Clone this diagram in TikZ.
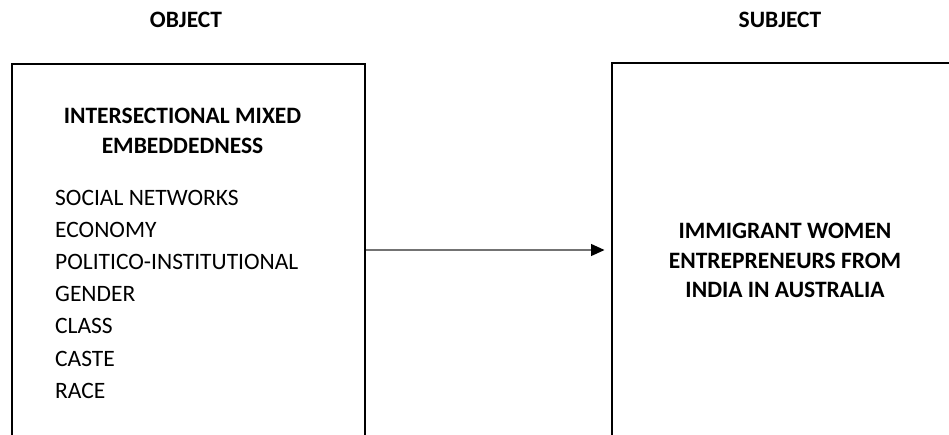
\documentclass[tikz,border=0pt]{standalone}
\usepackage{fontspec}
\setmainfont{Carlito}
\usetikzlibrary{arrows.meta}
\begin{document}
\begin{tikzpicture}[x=1pt,y=-1pt,
  frame/.style={draw=black, line width=2pt, rectangle, inner sep=0pt},
  heading/.style={font=\fontsize{23.5}{30}\selectfont\bfseries, inner sep=0pt},
  item/.style={font=\fontsize{23.5}{30}\selectfont, anchor=base west, inner sep=0pt},
  link/.style={draw=black!55, line width=1.3pt,
    -{Triangle[length=13.5pt,width=12pt,color=black]}}]
  \useasboundingbox (0,0) rectangle (949,434);
  \clip (0,0) rectangle (949,434);

  % column captions
  \node[heading, anchor=base] (objcap) at (186,27.7) {OBJECT};
  \node[heading, anchor=base] (subcap) at (780,27.7) {SUBJECT};

  % the two frames run past the lower (and right) edge
  \node[frame, minimum width=353pt, minimum height=500pt, anchor=north west] (objbox) at (11,63) {};
  \node[frame, minimum width=400pt, minimum height=500pt, anchor=north west] (subbox) at (610.5,62) {};

  % object frame content
  \node[heading, anchor=base] (mix1) at (182.5,123) {INTERSECTIONAL MIXED};
  \node[heading, anchor=base] (mix2) at (182.5,153) {EMBEDDEDNESS};
  \foreach \txt [count=\i from 0] in {SOCIAL NETWORKS, ECONOMY, POLITICO-INSTITUTIONAL, GENDER, CLASS, CASTE, RACE}
    \node[item] (it\i) at (55,205+32.2*\i) {\txt};

  % subject frame content
  \node[heading, anchor=base] (sub1) at (785,238) {IMMIGRANT WOMEN};
  \node[heading, anchor=base] (sub2) at (785,268) {ENTREPRENEURS FROM};
  \node[heading, anchor=base] (sub3) at (785,297.5) {INDIA IN AUSTRALIA};

  % connector
  \coordinate (ay) at (0,250);
  \draw[link, shorten >=6pt] (objbox.east |- ay) -- (subbox.west |- ay);
\end{tikzpicture}
\end{document}
